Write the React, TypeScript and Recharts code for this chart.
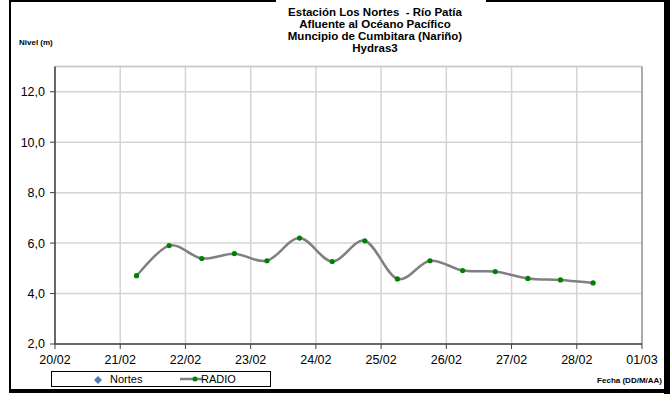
import React from 'react';
import { LineChart, Line, XAxis, YAxis, CartesianGrid, ReferenceLine } from 'recharts';

const titleLines = [
  'Estación Los Nortes  - Río Patía',
  'Afluente al Océano Pacífico',
  'Muncipio de Cumbitara (Nariño)',
  'Hydras3',
];
const yAxisTitle = 'Nivel (m)';
const xAxisTitle = 'Fecha (DD/M/AA)';

const dates = [
  '21/02 06:00', '21/02 18:00', '22/02 06:00', '22/02 18:00', '23/02 06:00',
  '23/02 18:00', '24/02 06:00', '24/02 18:00', '25/02 06:00', '25/02 18:00',
  '26/02 06:00', '26/02 18:00', '27/02 06:00', '27/02 18:00', '28/02 06:00',
];
const radio = [4.71, 5.9, 5.39, 5.58, 5.3, 6.2, 5.27, 6.09, 4.58, 5.3, 4.91, 4.87, 4.6, 4.54, 4.42];
const nortes: number[] = [];

const xTickLabels = ['20/02', '21/02', '22/02', '23/02', '24/02', '25/02', '26/02', '27/02', '28/02', '01/03'];
const yTicks = [2, 4, 6, 8, 10, 12];
const yMax = 13;

const parseDate = (s: string) => {
  const [d, t] = s.split(' ');
  const [dd, mm] = d.split('/').map(Number);
  const [hh, mi] = (t || '00:00').split(':').map(Number);
  return Date.UTC(2013, mm - 1, dd, hh, mi) / 86400000;
};

const xTicks = xTickLabels.map((l) => parseDate(l));
const data = radio.map((v, i) => ({ t: parseDate(dates[i]), radio: v, nortes: nortes[i] }));

// Excel-like smoothed line (Catmull-Rom / cardinal with tension 0)
const excelCurve: any = (context: any) => {
  let pts: number[][] = [];
  return {
    areaStart() {},
    areaEnd() {},
    lineStart() { pts = []; },
    point(x: number, y: number) { pts.push([+x, +y]); },
    lineEnd() {
      if (!pts.length) return;
      context.moveTo(pts[0][0], pts[0][1]);
      for (let i = 0; i < pts.length - 1; i++) {
        const p0 = pts[i - 1] || pts[i];
        const p1 = pts[i];
        const p2 = pts[i + 1];
        const p3 = pts[i + 2] || pts[i + 1];
        context.bezierCurveTo(
          p1[0] + (p2[0] - p0[0]) / 6, p1[1] + (p2[1] - p0[1]) / 6,
          p2[0] - (p3[0] - p1[0]) / 6, p2[1] - (p3[1] - p1[1]) / 6,
          p2[0], p2[1]
        );
      }
    },
  };
};

const FONT = '"Liberation Sans", Arial, sans-serif';

export default function App() {
  return (
    <div style={{ position: 'absolute', left: 0, top: 0, width: 671, height: 394, background: '#fff', fontFamily: FONT, overflow: 'hidden' }}>
      {/* outer frame */}
      <div style={{ position: 'absolute', left: 9, top: 0, width: 267, height: 2, background: '#000' }} />
      <div style={{ position: 'absolute', left: 486, top: 0, width: 184, height: 2, background: '#000' }} />
      <div style={{ position: 'absolute', left: 9, top: 0, width: 2, height: 392, background: '#000' }} />
      <div style={{ position: 'absolute', left: 664, top: 0, width: 6, height: 394, background: '#000' }} />
      <div style={{ position: 'absolute', left: 9, top: 389, width: 661, height: 4, background: '#000' }} />

      <div style={{ position: 'absolute', left: 0, top: 0 }}>
        <LineChart width={671} height={394} data={data} margin={{ top: 66.5, right: 29, bottom: 20, left: 10 }}>
          <CartesianGrid stroke="#d4d4d4" strokeWidth={1.5} />
          <ReferenceLine y={yMax} stroke="#c8c8c8" strokeWidth={1.5} />
          <ReferenceLine x={xTicks[xTicks.length - 1]} stroke="#9a9a9a" strokeWidth={1.5} />
          <XAxis
            type="number"
            dataKey="t"
            domain={[xTicks[0], xTicks[xTicks.length - 1]]}
            ticks={xTicks}
            tickFormatter={(v: number) => xTickLabels[xTicks.indexOf(v)] ?? ''}
            interval={0}
            height={30}
            tickSize={5}
            tickMargin={6}
            axisLine={{ stroke: '#404040', strokeWidth: 1.5 }}
            tickLine={{ stroke: '#404040' }}
            tick={{ fill: '#000', fontSize: 12.5, fontFamily: FONT }}
          />
          <YAxis
            type="number"
            domain={[yTicks[0], yMax]}
            ticks={yTicks}
            tickFormatter={(v: number) => v.toFixed(1).replace('.', ',')}
            interval={0}
            width={45}
            tickSize={5}
            tickMargin={5}
            axisLine={{ stroke: '#404040', strokeWidth: 1.5 }}
            tickLine={{ stroke: '#404040' }}
            tick={{ fill: '#000', fontSize: 12.5, fontFamily: FONT }}
          />
          <Line
            dataKey="radio"
            type={excelCurve}
            stroke="#808080"
            strokeWidth={2.5}
            dot={{ r: 2.6, fill: '#008000', stroke: 'none' }}
            activeDot={false}
            isAnimationActive={false}
          />
        </LineChart>
      </div>

      {/* title */}
      <div style={{ position: 'absolute', left: 225, top: 6, width: 300, textAlign: 'center', fontWeight: 'bold', fontSize: 11.5, lineHeight: '12px', color: '#000', whiteSpace: 'pre' }}>
        {titleLines.map((l) => (<div key={l}>{l}</div>))}
      </div>
      <div style={{ position: 'absolute', left: 19, top: 38, fontWeight: 'bold', fontSize: 8, color: '#000' }}>{yAxisTitle}</div>
      <div style={{ position: 'absolute', right: 9, top: 376, fontWeight: 'bold', fontSize: 8, color: '#000' }}>{xAxisTitle}</div>

      {/* legend */}
      <div style={{ position: 'absolute', left: 51, top: 371, width: 220, height: 16, border: '1px solid #000', boxSizing: 'border-box', fontSize: 11, color: '#000' }}>
        <svg style={{ position: 'absolute', left: 42, top: 4 }} width={8} height={8}>
          <polygon points="4,0 8,4 4,8 0,4" fill="#4a7ebb" />
        </svg>
        <span style={{ position: 'absolute', left: 58, top: 1 }}>Nortes</span>
        <svg style={{ position: 'absolute', left: 128, top: 2 }} width={22} height={10}>
          <line x1={0} y1={5} x2={22} y2={5} stroke="#808080" strokeWidth={2.5} />
          <circle cx={15} cy={5} r={2.5} fill="#008000" />
        </svg>
        <span style={{ position: 'absolute', left: 149, top: 1 }}>RADIO</span>
      </div>
    </div>
  );
}
